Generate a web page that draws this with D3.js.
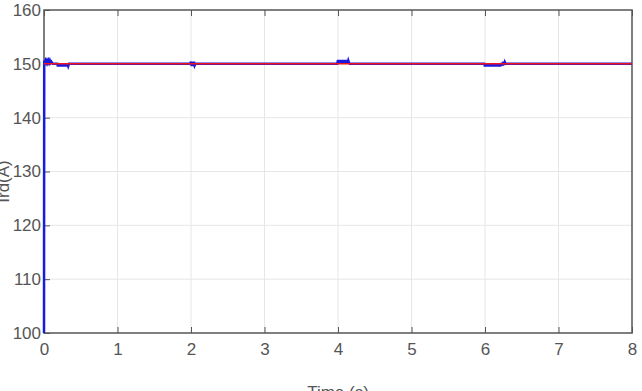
<!DOCTYPE html>
<html lang="en">
<head>
<meta charset="utf-8">
<title>Ird</title>
<script src="https://d3js.org/d3.v7.min.js"></script>
<style>
  body { margin: 0; background: white; }
  text { font-family: 'Liberation Sans', Arial, sans-serif; fill: #555; }
  .grid line { stroke: #e6e6e6; stroke-width: 1; }
</style>
</head>
<body>
<div id="container"></div>
<script>
var w = 642, h = 391;
var margin = {top: 10, right: 10, bottom: 58, left: 44};

// axis ticks
var xTicks = [0, 1, 2, 3, 4, 5, 6, 7, 8];
var yTicks = [100, 110, 120, 130, 140, 150, 160];

// reference current (red)
var refTime = [0, 8];
var refValue = [150, 150];

// measured current (blue)
var measTime = [0, 0.003, 0.01, 0.02, 0.03, 0.04, 0.05, 0.06, 0.07, 0.08, 0.09, 0.1, 0.12,
                0.18, 0.19, 0.2, 0.21, 0.22, 0.23, 0.24, 0.25, 0.26, 0.27, 0.28, 0.29, 0.3, 0.31, 0.32, 0.33, 0.34,
                1.99, 2.0, 2.01, 2.02, 2.03, 2.04, 2.05, 2.06,
                3.99, 4.0, 4.01, 4.02, 4.03, 4.04, 4.05, 4.06, 4.07, 4.08, 4.09, 4.1, 4.11, 4.12, 4.13, 4.14, 4.15, 4.16,
                5.99, 6.0, 6.01, 6.02, 6.03, 6.04, 6.05, 6.06, 6.07, 6.08, 6.09, 6.1, 6.11, 6.12, 6.13, 6.14,
                6.15, 6.16, 6.17, 6.18, 6.19, 6.2, 6.21, 6.22, 6.23, 6.24, 6.25, 6.26, 6.27, 6.28, 8];
var measValue = [100, 150.6, 150.2, 150.6, 150.2, 150.6, 150.2, 150.6, 150.2, 150.6, 150.2, 150.4, 150,
                 150, 149.5, 150.1, 149.5, 150.1, 149.5, 150.1, 149.5, 150.1, 149.5, 150.1, 149.5, 150.1, 149.5, 150.1, 149.6, 150,
                 150, 150.4, 149.6, 150.4, 149.6, 150.4, 149.7, 150,
                 150, 150.7, 150.1, 150.7, 150.1, 150.7, 150.1, 150.7, 150.1, 150.7, 150.1, 150.7, 150.1, 150.7, 150.1, 150.6, 150.2, 150,
                 150, 149.5, 150.1, 149.5, 150.1, 149.5, 150.1, 149.5, 150.1, 149.5, 150.1, 149.5, 150.1, 149.5, 150.1, 149.5,
                 150.1, 149.5, 150.1, 149.5, 150.1, 149.5, 150.1, 149.6, 150.2, 149.7, 150.4, 149.8, 150.3, 150, 150];

var svg = d3.select("#container").append("svg")
  .attr("width", w).attr("height", h);

var x = d3.scaleLinear().domain([0, 8]).range([margin.left, w - margin.right]);
var y = d3.scaleLinear().domain([100, 160]).range([h - margin.bottom, margin.top]);

// grid
svg.append("g").attr("class", "grid")
  .selectAll("line").data(xTicks.slice(1, -1)).enter().append("line")
  .attr("x1", d => x(d)).attr("x2", d => x(d))
  .attr("y1", y(100)).attr("y2", y(160));
svg.append("g").attr("class", "grid")
  .selectAll("line").data(yTicks.slice(1, -1)).enter().append("line")
  .attr("x1", x(0)).attr("x2", x(8))
  .attr("y1", d => y(d)).attr("y2", d => y(d));

// box
svg.append("rect")
  .attr("x", x(0)).attr("y", y(160))
  .attr("width", x(8) - x(0)).attr("height", y(100) - y(160))
  .attr("fill", "none").attr("stroke", "#555").attr("stroke-width", 1.5);

// axes, ticks inside
var xAxis = d3.axisBottom(x).tickValues(xTicks).tickSize(-6).tickPadding(10).tickFormat(d3.format("d"));
var yAxis = d3.axisLeft(y).tickValues(yTicks).tickSize(-6).tickPadding(3).tickFormat(d3.format("d"));
var gx = svg.append("g").attr("transform", "translate(0," + y(100) + ")").call(xAxis);
var gy = svg.append("g").attr("transform", "translate(" + x(0) + ",0)").call(yAxis);
svg.append("g").attr("transform", "translate(0," + y(160) + ")")
  .call(d3.axisTop(x).tickValues(xTicks).tickSize(-6).tickFormat(""));
svg.selectAll(".domain").remove();
svg.selectAll(".tick line").attr("stroke", "#555");
svg.selectAll(".tick text").style("font-size", "17px").attr("fill", "#555");

// series
var line = d3.line().x(d => x(d[0])).y(d => y(d[1]));
svg.append("path")
  .datum(d3.zip(measTime, measValue))
  .attr("d", line)
  .attr("fill", "none").attr("stroke", "#1a1adf").attr("stroke-width", 2.5);
svg.append("path")
  .datum(d3.zip(refTime, refValue))
  .attr("d", line)
  .attr("fill", "none").attr("stroke", "#f0141e").attr("stroke-width", 1.5);

// labels
svg.append("text")
  .attr("x", (x(0) + x(8)) / 2).attr("y", 398)
  .attr("text-anchor", "middle").style("font-size", "17px")
  .text("Time (s)");
svg.append("text")
  .attr("transform", "translate(9," + ((y(100) + y(160)) / 2 + 10) + ") rotate(-90)")
  .attr("text-anchor", "middle").style("font-size", "17px")
  .text("Ird(A)");
</script>
</body>
</html>
